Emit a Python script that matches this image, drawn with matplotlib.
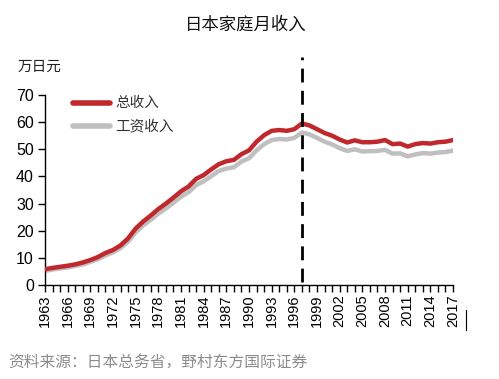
import matplotlib
matplotlib.use("Agg")
import matplotlib.pyplot as plt
from matplotlib.lines import Line2D
import numpy as np

plt.rcParams['font.family'] = ['Liberation Sans', 'Noto Sans CJK SC', 'DejaVu Sans']

years = list(range(1963, 2018))
total_income = [5.8, 6.3, 6.7, 7.1, 7.6, 8.3, 9.2, 10.3, 11.8, 12.9,
                 14.6, 17.2, 20.8, 23.4, 25.6, 28.0, 30.0, 32.2, 34.5, 36.3,
                 39.1, 40.5, 42.6, 44.5, 45.6, 46.1, 48.2, 49.6, 52.8, 55.2,
                 56.8, 57.1, 56.8, 57.4, 59.5, 58.8, 57.4, 56.0, 55.0, 53.6,
                 52.5, 53.3, 52.6, 52.6, 52.8, 53.4, 51.9, 52.1, 51.0, 51.9,
                 52.3, 52.1, 52.6, 52.8, 53.4]
wage_income = [5.2, 5.7, 6.1, 6.5, 7.0, 7.6, 8.5, 9.5, 10.9, 12.0,
               13.6, 16.0, 19.4, 22.0, 24.0, 26.3, 28.2, 30.3, 32.5, 34.2,
               36.8, 38.2, 40.1, 42.0, 42.9, 43.4, 45.5, 46.7, 49.6, 51.9,
               53.4, 53.8, 53.6, 54.2, 56.2, 55.5, 54.2, 52.8, 51.8, 50.4,
               49.4, 50.0, 49.2, 49.3, 49.4, 49.8, 48.4, 48.5, 47.4, 48.1,
               48.6, 48.4, 48.8, 49.0, 49.5]
tick_years = list(range(1963, 2018, 3))
series_names = ['总收入', '工资收入']
series_colors = ['#C0282D', '#BFBFBF']
title = '日本家庭月收入'
unit = '万日元'
source = '资料来源：日本总务省，野村东方国际证券'
marker_year = 1997

fig = plt.figure(figsize=(4.99, 3.79), dpi=100)
ax = fig.add_axes([45/499, 1-285/379, 408/499, 190/379])

ax.plot(years, wage_income, color=series_colors[1], lw=3.2, label=series_names[1], zorder=2)
ax.plot(years, total_income, color=series_colors[0], lw=3.2, label=series_names[0], zorder=3)
ax.plot([marker_year, marker_year], [1, 84], color='black', lw=2.0,
        dashes=(5, 3), clip_on=False, zorder=4)

ax.set_xlim(1963, 2017)
ax.set_ylim(0, 70)
ax.set_yticks(range(0, 71, 10))
ax.set_xticks(tick_years)
ax.set_xticks(years, minor=True)
ax.set_xticklabels([str(y) for y in tick_years], rotation=90, fontsize=10.5)
ax.tick_params(axis='y', labelsize=11.5, length=5, width=1, direction='out', pad=3)
ax.tick_params(axis='x', which='both', length=5, width=1, direction='out', pad=2)
for s in ['top', 'right']:
    ax.spines[s].set_visible(False)
for s in ['left', 'bottom']:
    ax.spines[s].set_linewidth(1.0)

# legend drawn manually (axes fraction coordinates)
leg_y = [(285-102.5)/190, (285-126)/190]
x0, x1, xt = (73-45)/408, (110-45)/408, (115-45)/408
for name, col, yy in zip(series_names, series_colors, leg_y):
    ax.add_line(Line2D([x0, x1], [yy, yy], transform=ax.transAxes, color=col,
                       lw=4, clip_on=False, solid_capstyle='round'))
    ax.text(xt, yy, name, transform=ax.transAxes, ha='left', va='center',
            fontsize=10.5, family=['Noto Sans CJK SC'], color='#333333')

fig.text(246/499, 1-25/379, title, ha='center', va='center', fontsize=12.5,
         family=['Noto Sans CJK SC'], color='#111111')
fig.text(18/499, 1-67/379, unit, ha='left', va='center', fontsize=10.5,
         family=['Noto Sans CJK SC'], color='#222222')
fig.text(8/499, 1-362/379, source, ha='left', va='center', fontsize=11.3,
         family=['Noto Sans CJK SC'], color='#8C8C8C')
fig.add_artist(Line2D([466/499, 466/499], [1-310/379, 1-330/379], color='black', lw=0.8))

fig.savefig('out.png', dpi=100, facecolor='white')
